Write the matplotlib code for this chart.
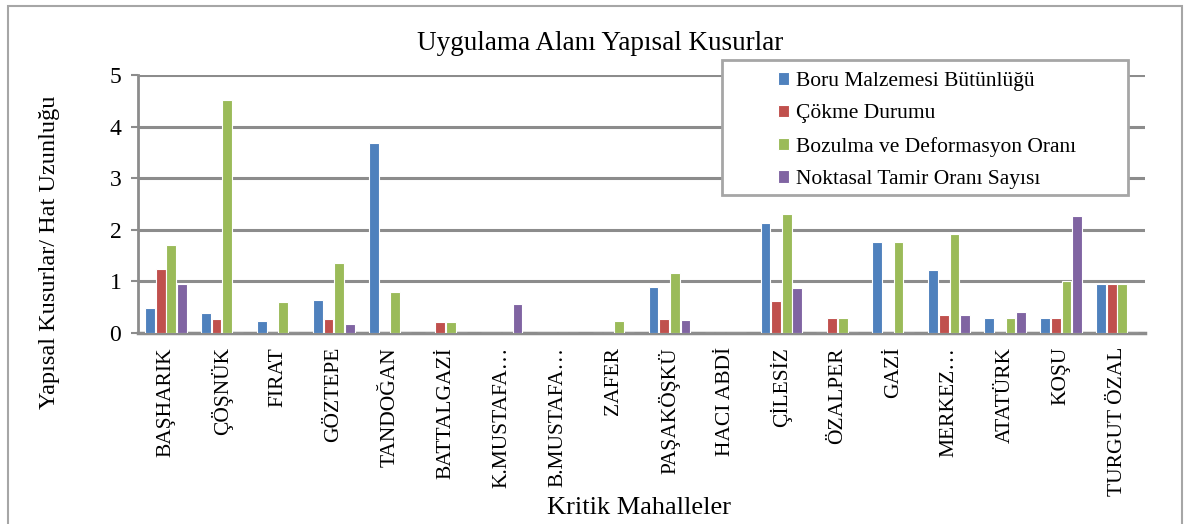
import matplotlib
matplotlib.use("Agg")
import matplotlib.pyplot as plt
from matplotlib.patches import Rectangle
import numpy as np

categories = ["BAŞHARIK", "ÇÖŞNÜK", "FIRAT", "GÖZTEPE", "TANDOĞAN", "BATTALGAZİ",
              "K.MUSTAFA…", "B.MUSTAFA…", "ZAFER", "PAŞAKÖŞKÜ", "HACI ABDİ",
              "ÇİLESİZ", "ÖZALPER", "GAZİ", "MERKEZ…", "ATATÜRK", "KOŞU", "TURGUT ÖZAL"]

boru = [0.48, 0.39, 0.24, 0.63, 3.68, 0.0, 0.0, 0.0, 0.0, 0.89, 0.0,
        2.13, 0.0, 1.76, 1.23, 0.30, 0.29, 0.95]
cokme = [1.25, 0.28, 0.0, 0.28, 0.0, 0.21, 0.0, 0.0, 0.0, 0.27, 0.0,
         0.62, 0.29, 0.0, 0.35, 0.0, 0.29, 0.95]
bozulma = [1.71, 4.52, 0.60, 1.35, 0.80, 0.21, 0.0, 0.0, 0.23, 1.17, 0.0,
           2.31, 0.29, 1.76, 1.92, 0.30, 1.00, 0.95]
noktasal = [0.94, 0.0, 0.0, 0.18, 0.0, 0.0, 0.57, 0.0, 0.0, 0.26, 0.0,
            0.87, 0.0, 0.0, 0.35, 0.41, 2.27, 0.0]

series_names = ["Boru Malzemesi Bütünlüğü", "Çökme Durumu",
                "Bozulma ve Deformasyon Oranı", "Noktasal Tamir Oranı Sayısı"]
colors = ["#4F81BD", "#C0504D", "#9BBB59", "#8064A2"]

plt.rcParams['font.family'] = ['Liberation Serif', 'DejaVu Serif']

W, H = 1187, 524
fig = plt.figure(figsize=(W / 100, H / 100), dpi=100)

def fx(px):
    return px / W

def fy(py):
    return 1 - py / H

ax = fig.add_axes([fx(138), fy(333), fx(1145) - fx(138), fy(75) - fy(333)])

x = np.arange(len(categories))
step = 0.19
width = 0.175
for i, (vals, c, name) in enumerate(zip([boru, cokme, bozulma, noktasal], colors, series_names)):
    ax.bar(x + (i - 1.5) * step, vals, width=width, color=c, edgecolor="white",
           linewidth=0.8, label=name, zorder=3)

ax.set_xlim(-0.5, len(categories) - 0.5)
ax.set_ylim(0, 5)
ax.set_yticks([0, 1, 2, 3, 4, 5])
ax.yaxis.grid(True, color="#8c8c8c", linewidth=2.2, zorder=0)
ax.set_axisbelow(True)
for s in ["top", "right"]:
    ax.spines[s].set_visible(False)
ax.spines["left"].set_color("#8c8c8c")
ax.spines["left"].set_linewidth(2.0)
ax.spines["bottom"].set_color("#8c8c8c")
ax.spines["bottom"].set_linewidth(2.5)
ax.tick_params(axis="y", colors="#8c8c8c", length=5, width=1.5, labelsize=17,
               labelcolor="black", pad=7)
ax.set_xticks(x)
ax.set_xticklabels(categories, rotation=90, va="top", ha="center", fontsize=15.5)
ax.tick_params(axis="x", length=0, pad=10)

# legend box
fig.patches.append(Rectangle((fx(722), fy(195)), fx(1128) - fx(722), fy(60) - fy(195),
                             transform=fig.transFigure, facecolor="white",
                             edgecolor="#a6a6a6", linewidth=2.0, zorder=5))
handles, labels = ax.get_legend_handles_labels()
leg = fig.legend(handles, labels, loc="upper left", bbox_to_anchor=(fx(763), fy(57)),
                 bbox_transform=fig.transFigure, frameon=False, fontsize=15.5,
                 handlelength=0.5, handleheight=0.5, handletextpad=0.35,
                 labelspacing=0.62, borderpad=0.2)
leg.set_zorder(6)

# outer border
fig.patches.append(Rectangle((fx(8), fy(530)), fx(1182) - fx(8), fy(6) - fy(530),
                             transform=fig.transFigure, facecolor="none",
                             edgecolor="#a6a6a6", linewidth=1.5, zorder=1))

fig.text(fx(600), fy(44), "Uygulama Alanı Yapısal Kusurlar", ha="center", va="center",
         fontsize=19.5)
fig.text(fx(50), fy(252), "Yapısal Kusurlar/ Hat Uzunluğu", ha="center", va="center",
         rotation=90, fontsize=17.5)
fig.text(fx(639), fy(508), "Kritik Mahalleler", ha="center", va="center", fontsize=19)

fig.savefig("out.png", dpi=100)
